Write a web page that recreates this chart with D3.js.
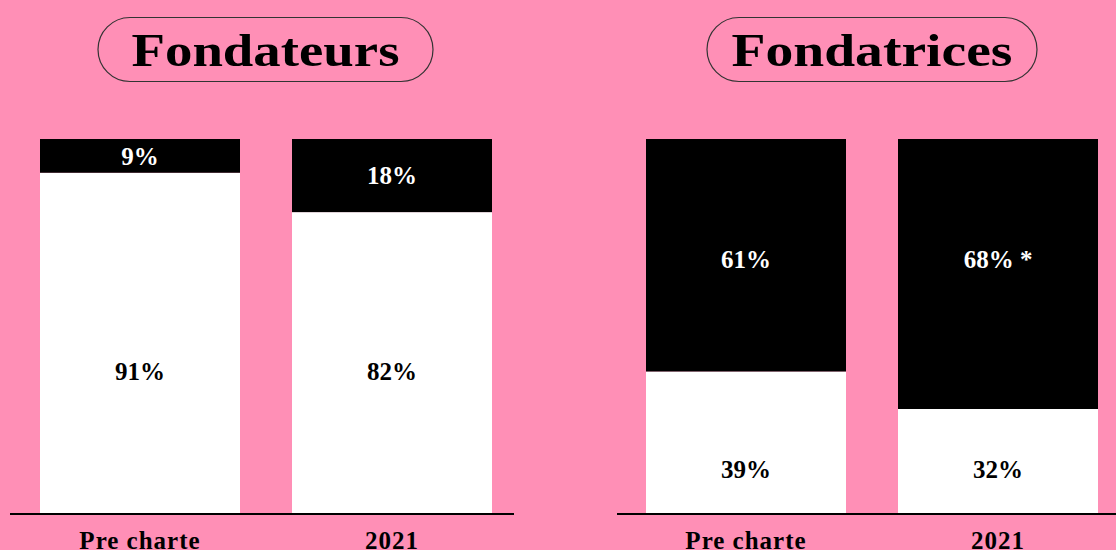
<!DOCTYPE html>
<html lang="fr">
<head>
<meta charset="UTF-8">
<title>Fondateurs / Fondatrices</title>
<script src="https://d3js.org/d3.v7.min.js"></script>
<style>
  html, body { margin: 0; padding: 0; background: #ff8fb6; }
  svg { display: block; }
  text { font-family: "Liberation Serif", "DejaVu Serif", serif; font-weight: bold; }
</style>
</head>
<body>
<div id="chart"></div>
<script>
// periods shown under each panel
const categories = ["Pre charte", "2021"];
const panelTitles = ["Fondateurs", "Fondatrices"];

// share of the black (upper) segment, as drawn
const blackShare = [[9, 19.5], [62, 72]];
// printed labels
const blackLabels = [["9%", "18%"], ["61%", "68% *"]];
const whiteLabels = [["91%", "82%"], ["39%", "32%"]];

const width = 1116, height = 550;
const svg = d3.select("#chart").append("svg")
    .attr("width", width)
    .attr("height", height);

svg.append("rect").attr("width", width).attr("height", height).attr("fill", "#ff8fb6");

const y = d3.scaleLinear().domain([0, 100]).range([514, 139]);

// each panel: band range and axis line extent
const panels = [
  { range: [40, 492], line: [10, 514], pill: [98, 433], titleLen: 268 },
  { range: [646, 1098], line: [617, 1116], pill: [707, 1037], titleLen: 281 }
];

panels.forEach((p, i) => {
  const g = svg.append("g");
  const x = d3.scaleBand()
      .domain(categories)
      .range(p.range)
      .paddingInner(52 / 252)
      .paddingOuter(0);

  const rows = categories.map((c, j) => ({
    cat: c,
    black: blackShare[i][j],
    white: 100 - blackShare[i][j],
    bl: blackLabels[i][j],
    wl: whiteLabels[i][j]
  }));

  // white segment (bottom)
  g.selectAll("rect.w").data(rows).enter().append("rect")
      .attr("class", "w")
      .attr("x", d => x(d.cat))
      .attr("width", x.bandwidth())
      .attr("y", d => y(d.white))
      .attr("height", d => y(0) - y(d.white))
      .attr("fill", "#fff");

  // black segment (top)
  g.selectAll("rect.b").data(rows).enter().append("rect")
      .attr("class", "b")
      .attr("x", d => x(d.cat))
      .attr("width", x.bandwidth())
      .attr("y", y(100))
      .attr("height", d => y(d.white) - y(100))
      .attr("fill", "#000");

  // label placement: middle of the part the bars share, or own segment if small
  const minW = d3.min(rows, d => d.white), maxW = d3.max(rows, d => d.white);
  const sharedBlack = y(maxW) - y(100);
  const sharedWhite = y(0) - y(minW);

  g.selectAll("text.bl").data(rows).enter().append("text")
      .attr("class", "bl")
      .attr("x", d => x(d.cat) + x.bandwidth() / 2)
      .attr("y", d => sharedBlack > 100 ? (y(100) + y(maxW)) / 2 + 4 : (y(100) + y(d.white)) / 2)
      .attr("dy", "0.35em")
      .attr("text-anchor", "middle")
      .attr("fill", "#fff")
      .style("font-size", "25px")
      .text(d => d.bl);

  g.selectAll("text.wl").data(rows).enter().append("text")
      .attr("class", "wl")
      .attr("x", d => x(d.cat) + x.bandwidth() / 2)
      .attr("y", d => sharedWhite > 100 ? (y(0) + y(minW)) / 2 + 8 : (y(0) + y(d.white)) / 2)
      .attr("dy", "0.35em")
      .attr("text-anchor", "middle")
      .attr("fill", "#000")
      .style("font-size", "25px")
      .text(d => d.wl);

  // baseline
  g.append("line")
      .attr("x1", p.line[0]).attr("x2", p.line[1])
      .attr("y1", y(0)).attr("y2", y(0))
      .attr("stroke", "#000")
      .attr("stroke-width", 2);

  // category labels
  g.selectAll("text.cat").data(categories).enter().append("text")
      .attr("class", "cat")
      .attr("x", d => x(d) + x.bandwidth() / 2)
      .attr("y", 549)
      .attr("text-anchor", "middle")
      .attr("fill", "#000")
      .style("font-size", "25px")
      .style("letter-spacing", "1px")
      .text(d => d);

  // title pill
  const cx = (p.pill[0] + p.pill[1]) / 2;
  g.append("rect")
      .attr("x", p.pill[0]).attr("y", 17.5)
      .attr("width", p.pill[1] - p.pill[0]).attr("height", 64)
      .attr("rx", 32).attr("ry", 32)
      .attr("fill", "none")
      .attr("stroke", "#333")
      .attr("stroke-width", 1.2);

  g.append("text")
      .attr("x", cx)
      .attr("y", 66)
      .attr("text-anchor", "middle")
      .attr("fill", "#000")
      .attr("textLength", p.titleLen)
      .attr("lengthAdjust", "spacingAndGlyphs")
      .style("font-size", "47px")
      .text(panelTitles[i]);
});
</script>
</body>
</html>
